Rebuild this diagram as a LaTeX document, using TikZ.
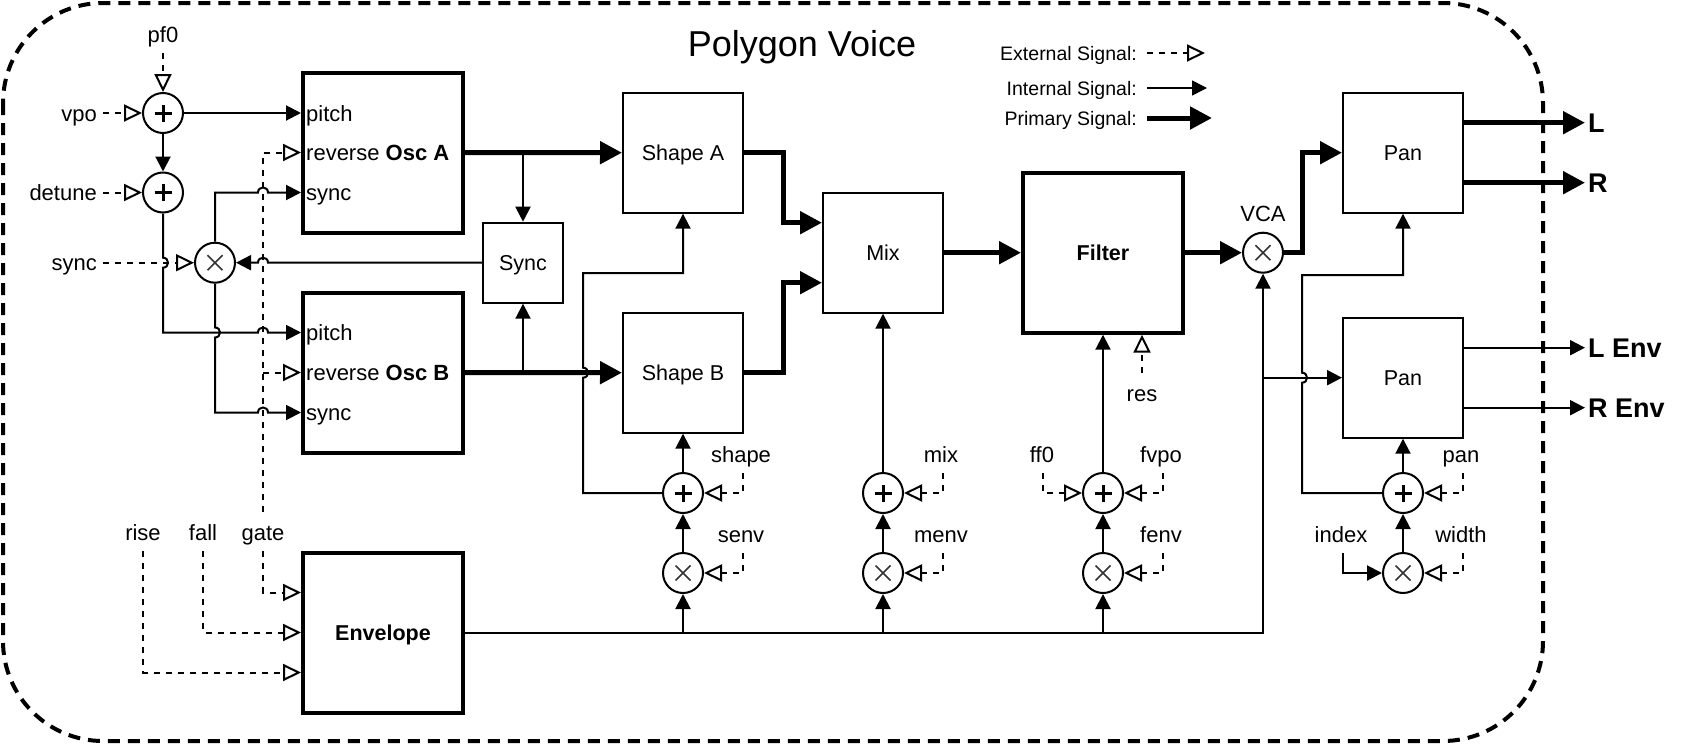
\documentclass[tikz,border=0pt]{standalone}
\usepackage{fontspec}
\setmainfont{Liberation Sans}
\usetikzlibrary{arrows.meta,calc}
\begin{document}
\begin{tikzpicture}[x=1pt,y=-1pt,
  every node/.style={font=\fontsize{22}{26}\selectfont},
  lbl/.style={inner sep=0pt, text height=16pt, text depth=0pt},
  outlbl/.style={inner sep=0pt, anchor=west, font=\bfseries\fontsize{27}{30}\selectfont, text height=19.5pt, text depth=0pt},
  lgd/.style={inner sep=0pt, anchor=east, font=\fontsize{19.5}{22}\selectfont, text height=14pt, text depth=0pt},
  box/.style={draw, line width=2pt, minimum width=120pt, minimum height=120pt, inner sep=0pt, text height=15.5pt, text depth=0pt, font=\fontsize{21.5}{26}\selectfont},
  tbox/.style={box, line width=4pt, minimum width=160pt, minimum height=160pt, font=\bfseries\fontsize{21.5}{26}\selectfont},
  sum/.style={draw, circle, line width=2pt, minimum size=40pt, inner sep=0pt},
  plus/.style={sum, path picture={\draw[line width=3pt]
      ([xshift=-8.5pt]path picture bounding box.center) -- ([xshift=8.5pt]path picture bounding box.center)
      ([yshift=-8.5pt]path picture bounding box.center) -- ([yshift=8.5pt]path picture bounding box.center);}},
  times/.style={sum, path picture={\draw[line width=1.6pt, black!80]
      ([shift={(-7.5pt,-7.5pt)}]path picture bounding box.center) -- ([shift={(7.5pt,7.5pt)}]path picture bounding box.center)
      ([shift={(-7.5pt,7.5pt)}]path picture bounding box.center) -- ([shift={(7.5pt,-7.5pt)}]path picture bounding box.center);}},
  wire/.style={line width=2pt},
  int/.style={wire, -{Triangle[length=15pt,width=15pt]}},
  ext/.style={wire, dash pattern=on 6pt off 6pt, -{Triangle[open,length=18pt,width=17pt,fill=white]}},
  prim/.style={line width=5pt, -{Triangle[length=22pt,width=22pt]}},
]
\useasboundingbox (0,0) rectangle (1684,744);
\draw[line width=4pt, dash pattern=on 12pt off 8pt, rounded corners=100pt] (3,3) rectangle (1543,741);

% title and legend
\node[lbl, font=\fontsize{36}{40}\selectfont, text height=26pt] (title) at (802,43) {Polygon Voice};
\node[lgd] (lgE) at (1137,53) {External Signal:};
\node[lgd] (lgI) at (1137,88) {Internal Signal:};
\node[lgd] (lgP) at (1137,118) {Primary Signal:};
\coordinate (lgEend) at (1205,53);
\coordinate (lgIend) at (1207,88);
\coordinate (lgPend) at (1212,118);
\draw[ext] ([xshift=10pt]lgE.east) -- (lgEend);
\draw[int, line width=1.6pt] ([xshift=10pt]lgI.east) -- (lgIend);
\draw[prim] ([xshift=10pt]lgP.east) -- (lgPend);

% boxes
\node[tbox] (oscA) at (383,152.5) {};
\node[lbl, anchor=west] (oscApitch) at (306,113) {pitch};
\node[lbl, anchor=west] (oscArev) at (306,152.5) {reverse \textbf{Osc A}};
\node[lbl, anchor=west] (oscAsync) at (306,192.5) {sync};
\node[tbox] (oscB) at (383,372.5) {};
\node[lbl, anchor=west] (oscBpitch) at (306,332.5) {pitch};
\node[lbl, anchor=west] (oscBrev) at (306,372.5) {reverse \textbf{Osc B}};
\node[lbl, anchor=west] (oscBsync) at (306,412.5) {sync};
\node[tbox] (env) at (383,632.5) {Envelope};
\node[box, minimum width=80pt, minimum height=80pt] (syncb) at (523,262.7) {Sync};
\node[box] (shapeA) at (683,152.7) {Shape A};
\node[box] (shapeB) at (683,372.7) {Shape B};
\node[box] (mix) at (883,252.7) {Mix};
\node[tbox] (filter) at (1103,252.7) {Filter};
\node[box] (pan1) at (1403,152.7) {Pan};
\node[box] (pan2) at (1403,377.7) {Pan};

% circles
\node[plus] (p1) at (163,113) {};
\node[plus] (p2) at (163,192.5) {};
\node[times] (x1) at (215,262.7) {};
\node[times] (vca) at (1263,252.7) {};
\node[plus] (sp) at (683,493) {};
\node[times] (sx) at (683,573) {};
\node[plus] (mp) at (883,493) {};
\node[times] (mx) at (883,573) {};
\node[plus] (fp) at (1103,493) {};
\node[times] (fx) at (1103,573) {};
\node[plus] (pp) at (1403,493) {};
\node[times] (px) at (1403,573) {};

% labels
\node[lbl] (lpf0) at (163,34) {pf0};
\node[lbl, anchor=east] (lvpo) at (97,113) {vpo};
\node[lbl, anchor=east] (ldetune) at (97,192.5) {detune};
\node[lbl, anchor=east] (lsync) at (97,262.7) {sync};
\node[lbl] (lrise) at (143,532) {rise};
\node[lbl] (lfall) at (203,532) {fall};
\node[lbl] (lgate) at (263,532) {gate};
\node[lbl] (lshape) at (741,454) {shape};
\node[lbl] (lsenv) at (741,534) {senv};
\node[lbl] (lmix) at (941,454) {mix};
\node[lbl] (lmenv) at (941,534) {menv};
\node[lbl] (lff0) at (1042,454) {ff0};
\node[lbl] (lfvpo) at (1161,454) {fvpo};
\node[lbl] (lfenv) at (1161,534) {fenv};
\node[lbl] (lpan) at (1461,454) {pan};
\node[lbl] (lwidth) at (1461,534) {width};
\node[lbl] (lindex) at (1341,534) {index};
\node[lbl] (lres) at (1142,393) {res};
\node[lbl] (lvca) at (1263,213) {VCA};
\node[outlbl] (lL) at (1588,122.7) {L};
\node[outlbl] (lR) at (1588,182.7) {R};
\node[outlbl] (lLenv) at (1588,347.7) {L Env};
\node[outlbl] (lRenv) at (1588,407.7) {R Env};

% external inputs
\draw[ext] ([yshift=-11pt]lpf0.south) -- (p1.north);
\draw[ext] ([xshift=6pt]lvpo.east) -- (p1.west);
\draw[ext] ([xshift=6pt]ldetune.east) -- (p2.west);
\draw[ext] ([xshift=6pt]lsync.east) -- (x1.west);
\draw[ext] ([yshift=12pt]lgate.north) |- (oscA.west);
\draw[ext] (lgate.north |- oscB.west) -- (oscB.west);
\draw[ext] ([yshift=-11pt]lgate.south) |- ([yshift=40pt]env.west);
\draw[ext] ([yshift=-11pt]lfall.south) |- (env.west);
\draw[ext] ([yshift=-11pt]lrise.south) |- ([yshift=-40pt]env.west);
\draw[ext] ([shift={(2pt,-11pt)}]lshape.south) |- (sp.east);
\draw[ext] ([shift={(2pt,-11pt)}]lsenv.south) |- (sx.east);
\draw[ext] ([shift={(2pt,-11pt)}]lmix.south) |- (mp.east);
\draw[ext] ([shift={(2pt,-11pt)}]lmenv.south) |- (mx.east);
\draw[ext] ([shift={(1pt,-11pt)}]lff0.south) |- (fp.west);
\draw[ext] ([shift={(2pt,-11pt)}]lfvpo.south) |- (fp.east);
\draw[ext] ([shift={(2pt,-11pt)}]lfenv.south) |- (fx.east);
\draw[ext] ([shift={(2pt,-11pt)}]lpan.south) |- (pp.east);
\draw[ext] ([shift={(2pt,-11pt)}]lwidth.south) |- (px.east);
\draw[ext] ([yshift=12pt]lres.north) -- (filter.south -| lres.north);

% internal signals, left part
\draw[int] (p1.east) -- (oscA.west |- p1.east);
\draw[int] (p1.south) -- (p2.north);
\draw[int] (p2.south) -- (163,257.7) .. controls (169.67,257.7) and (169.67,267.7) .. (163,267.7)
  -- (163,332.5) -- (258,332.5) .. controls (258,325.83) and (268,325.83) .. (268,332.5)
  -- ([yshift=40pt]oscB.west);
\draw[int] (x1.north) -- (215,192.5) -- (258,192.5) .. controls (258,185.83) and (268,185.83) .. (268,192.5)
  -- ([yshift=-40pt]oscA.west);
\draw[int] (x1.south) -- (215,327.5) .. controls (221.67,327.5) and (221.67,337.5) .. (215,337.5)
  -- (215,412.5) -- (258,412.5) .. controls (258,405.83) and (268,405.83) .. (268,412.5)
  -- ([yshift=-40pt]oscB.west);
\draw[int] (syncb.west) -- (268,262.7) .. controls (268,256) and (258,256) .. (258,262.7) -- (x1.east);
\draw[int] (syncb.north |- oscA.east) -- (syncb.north);
\draw[int] (syncb.south |- oscB.east) -- (syncb.south);

% primary path
\draw[prim] (oscA.east) -- (shapeA.west);
\draw[prim] (oscB.east) -- (shapeB.west);
\draw[prim] (shapeA.east) -- (783,152.7) |- ([yshift=30pt]mix.west);
\draw[prim] (shapeB.east) -- (783,372.7) |- ([yshift=-30pt]mix.west);
\draw[prim] (mix.east) -- (filter.west);
\draw[prim] (filter.east) -- (vca.west);
\draw[prim] (vca.east) -- (1302,252.7) |- (pan1.west);
\draw[prim] ([yshift=30pt]pan1.east) -- ([xshift=-3pt]lL.west);
\draw[prim] ([yshift=-30pt]pan1.east) -- ([xshift=-3pt]lR.west);

% modulation
\draw[int] (sp.west) -- (583,493) -- (583,377.7) .. controls (589.67,377.7) and (589.67,367.7) .. (583,367.7)
  -- (583,273) -| (shapeA.south);
\draw[int] (sp.north) -- (shapeB.south);
\draw[int] (sx.north) -- (sp.south);
\draw[int] (mx.north) -- (mp.south);
\draw[int] (mp.north) -- (mix.south);
\draw[int] (fx.north) -- (fp.south);
\draw[int] (fp.north) -- (filter.south);
\draw[int] (px.north) -- (pp.south);
\draw[int] (pp.north) -- (pan2.south);
\draw[int] ([shift={(2pt,-11pt)}]lindex.south) |- (px.west);
\draw[int] (pp.west) -- (1302,493) -- (1302,382.7) .. controls (1308.67,382.7) and (1308.67,372.7) .. (1302,372.7)
  -- (1302,275) -| (pan1.south);

% envelope bus
\draw[int] (env.east) -| (vca.south);
\draw[int] (sx.south |- env.east) -- (sx.south);
\draw[int] (mx.south |- env.east) -- (mx.south);
\draw[int] (fx.south |- env.east) -- (fx.south);
\draw[int] (vca.south |- pan2.west) -- (pan2.west);

% outputs
\draw[int] ([yshift=30pt]pan2.east) -- ([xshift=-3pt]lLenv.west);
\draw[int] ([yshift=-30pt]pan2.east) -- ([xshift=-3pt]lRenv.west);
\end{tikzpicture}
\end{document}
